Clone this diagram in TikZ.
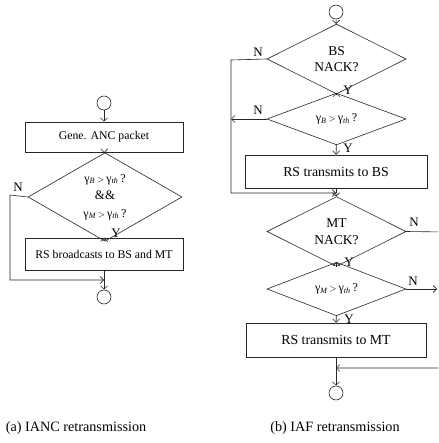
\documentclass[tikz,border=0pt]{standalone}
\usepackage{fontspec}
\setmainfont{Liberation Serif}
\usetikzlibrary{shapes.geometric,arrows.meta}

\begin{document}
\begin{tikzpicture}[x=1pt,y=-1pt,line width=.6pt,
  ink/.style={draw=black!85},
  flow/.style={ink,-{Straight Barb[length=3.5pt,width=7pt]}},
  termc/.style={ink,circle,minimum size=14pt,inner sep=0pt},
  actbox/.style={ink,rectangle,inner sep=0pt,font=\fontsize{13.8}{15}\selectfont},
  smallbox/.style={ink,rectangle,inner sep=0pt,font=\fontsize{11.8}{13}\selectfont},
  test/.style={ink,diamond,inner sep=0pt,align=center,font=\fontsize{13.5}{16.5}\selectfont},
  gtest/.style={test,font=\fontsize{12}{13}\selectfont},
  yn/.style={font=\fontsize{13}{14}\selectfont},
  subcap/.style={font=\fontsize{14.2}{16}\selectfont}]
\useasboundingbox (0,0) rectangle (438,443);
\clip (0,0) rectangle (438,443);
\newcommand\gth[1]{γ\textsubscript{\itshape #1}\,{\fontsize{9.5}{10}\selectfont$>$}\,γ\textsubscript{\itshape th}\,?}
% (a) IANC retransmission
\node[termc] (astart) at (104,103) {};
\node[smallbox,minimum width=158pt,minimum height=30pt] (gene) at (104,137) {Gene. ANC packet};
\node[gtest,minimum width=154pt,minimum height=64pt,font=\fontsize{12}{17.5}\selectfont] (both) at (105,197) {\gth{B}\\{\fontsize{13}{14}\selectfont\&\&}\\\gth{M}};
\node[smallbox,minimum width=158pt,minimum height=32pt] (bcast) at (104,254) {RS broadcasts to BS and MT};
\coordinate (amerge) at (104,280);
\coordinate (aleft) at (10,195);
\node[termc] (aend) at (104,297) {};
\draw[flow] (astart) -- (gene);
\draw[flow] (gene) -- (both);
\draw[flow] (both) -- (bcast);
\draw[ink] (bcast) -- (amerge);
\draw[flow] (amerge) -- (aend);
\draw[flow] (both.west) -- (aleft) |- (amerge);
\node[yn] (an) at (18,187) {N};
\node[yn] (ay) at (116,233) {Y};
% (b) IAF retransmission
\node[termc] (bstart) at (336,12) {};
\node[test,minimum width=139pt,minimum height=48pt] (bsnack) at (336.5,59) {BS\\NACK?};
\node[gtest,minimum width=139pt,minimum height=46pt] (gb) at (336.5,119) {\gth{B}};
\node[actbox,minimum width=182pt,minimum height=33pt] (txbs) at (336,171.5) {RS transmits to BS};
\coordinate (bmerge) at (336,193);
\node[test,minimum width=139pt,minimum height=47pt] (mtnack) at (336.5,231.5) {MT\\NACK?};
\node[gtest,minimum width=139pt,minimum height=48pt] (gm) at (336.5,289) {\gth{M}};
\node[actbox,minimum width=180pt,minimum height=34pt] (txmt) at (336,340) {RS transmits to MT};
\coordinate (cmerge) at (336,368);
\node[termc] (bend) at (336,393) {};
\coordinate (bleft) at (231,60);
\coordinate (gbout) at (231,119);
\coordinate (bright) at (446,232);
\coordinate (gmout) at (437,289);
\draw[flow] (bstart) -- (bsnack);
\draw[flow] (bsnack) -- (gb);
\draw[flow] (gb) -- (txbs);
\draw[ink] (txbs) -- (bmerge);
\draw[flow] (bmerge) -- (mtnack);
\draw[flow] (bsnack.west) -- (bleft) |- (bmerge);
\draw[flow] (gb.west) -- (gbout);
\draw[flow] (mtnack) -- (gm);
\draw[flow] (gm) -- (txmt);
\draw[ink] (txmt) -- (cmerge);
\draw[flow] (cmerge) -- (bend);
\draw[flow] (mtnack.east) -- (bright) |- (cmerge);
\draw[flow] (gm.east) -- (gmout);
\node[yn] (n1) at (258,52) {N};
\node[yn] (y1) at (348,90) {Y};
\node[yn] (n2) at (258,110) {N};
\node[yn] (y2) at (348,148) {Y};
\node[yn] (n3) at (414,222) {N};
\node[yn] (y3) at (349,262) {Y};
\node[yn] (n4) at (413,281) {N};
\node[yn] (y4) at (349,319) {Y};
% captions
\node[subcap] (capa) at (76,428) {(a) IANC retransmission};
\node[subcap] (capb) at (335,428) {(b) IAF retransmission};
\end{tikzpicture}
\end{document}
